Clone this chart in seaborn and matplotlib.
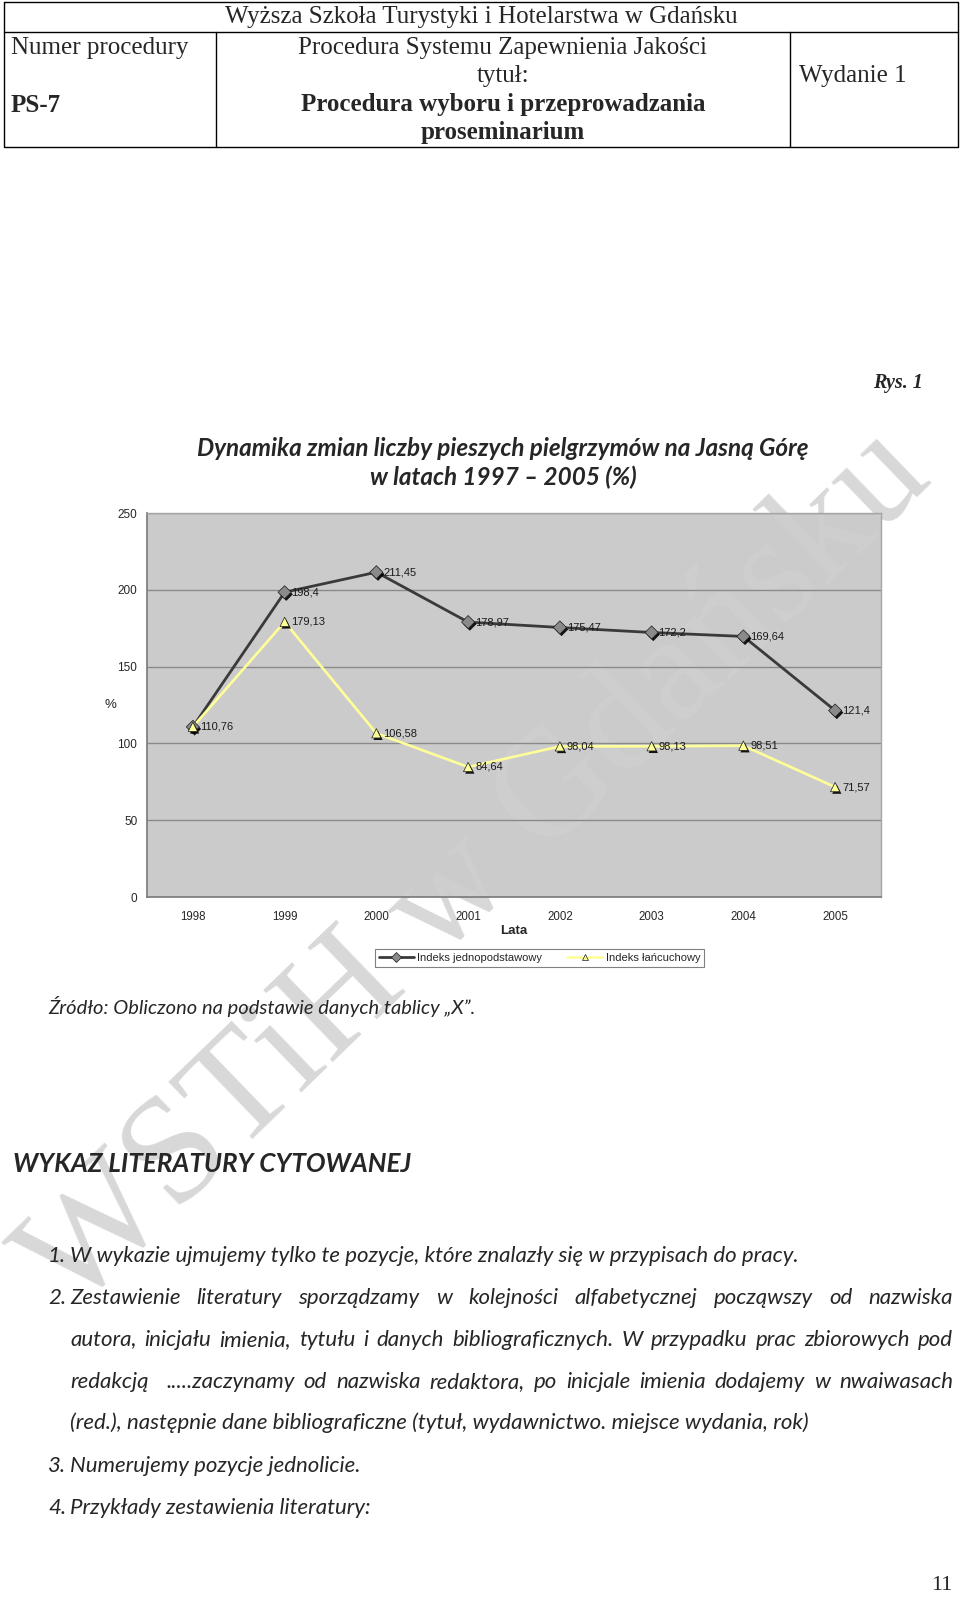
import numpy as np
import pandas as pd
import matplotlib
matplotlib.use("Agg")
import matplotlib.pyplot as plt
import matplotlib.patheffects as pe
from matplotlib.lines import Line2D
import seaborn as sns

# --- dane wykresu ---
lata = [1998, 1999, 2000, 2001, 2002, 2003, 2004, 2005]
indeks_jednopodstawowy = [110.76, 198.4, 211.45, 178.97, 175.47, 172.2, 169.64, 121.4]
indeks_lancuchowy = [110.76, 179.13, 106.58, 84.64, 98.04, 98.13, 98.51, 71.57]
serie = ["Indeks jednopodstawowy", "Indeks łańcuchowy"]
y_ticks = [0, 50, 100, 150, 200, 250]

# --- teksty strony ---
naglowek_uczelnia = "Wyższa Szkoła Turystyki i Hotelarstwa w Gdańsku"
tytul_wykresu = "Dynamika zmian liczby pieszych pielgrzymów na Jasną Górę\nw latach 1997 – 2005 (%)"
zrodlo = "Źródło: Obliczono na podstawie danych tablicy „X”."
wykaz_tytul = "WYKAZ LITERATURY CYTOWANEJ"
punkt_1 = "W wykazie ujmujemy tylko te pozycje, które znalazły się w przypisach do pracy."
punkt_2_linie = [
    "Zestawienie literatury sporządzamy w kolejności alfabetycznej począwszy od nazwiska",
    "autora, inicjału imienia, tytułu i danych bibliograficznych. W przypadku prac zbiorowych pod",
    "redakcją  .....zaczynamy od nazwiska redaktora, po inicjale imienia dodajemy w nwaiwasach",
]
punkt_2_ostatnia = "(red.), następnie dane bibliograficzne (tytuł, wydawnictwo. miejsce wydania, rok)"
punkt_3 = "Numerujemy pozycje jednolicie."
punkt_4 = "Przykłady zestawienia literatury:"

W, H = 960, 1597
DPI = 100

sns.set_style("white")
plt.rcParams["font.family"] = ["Liberation Sans", "DejaVu Sans"]

fig = plt.figure(figsize=(W / DPI, H / DPI), dpi=DPI)
fig.patch.set_facecolor("white")

# warstwa strony w pikselach
page = fig.add_axes([0, 0, 1, 1], zorder=0)
page.set_xlim(0, W)
page.set_ylim(H, 0)
page.axis("off")
page.patch.set_alpha(0)

SERIF = ["Liberation Serif", "DejaVu Serif"]
CAL = ["Lato", "DejaVu Sans"]

# znak wodny
wm_kw = dict(rotation=44, ha="center", va="center", fontsize=110,
             family=SERIF, rotation_mode="anchor")
page.text(478, 872, "WSTiH w Gdańsku", color="#d8d8d8", **wm_kw)

# tabela naglowka
lk = dict(color="black", lw=1.0)
page.plot([4, 958, 958, 4, 4], [2, 2, 147, 147, 2], **lk)
page.plot([4, 958], [32, 32], **lk)
page.plot([216, 216], [32, 147], **lk)
page.plot([790, 790], [32, 147], **lk)

hs = 18
page.text(481, 17, naglowek_uczelnia, ha="center", va="center", family=SERIF, fontsize=hs)
page.text(11, 48, "Numer procedury", ha="left", va="center", family=SERIF, fontsize=hs)
page.text(11, 105, "PS-7", ha="left", va="center", family=SERIF, fontsize=hs, weight="bold")
page.text(503, 48, "Procedura Systemu Zapewnienia Jakości", ha="center", va="center", family=SERIF, fontsize=hs)
page.text(503, 76, "tytuł:", ha="center", va="center", family=SERIF, fontsize=hs)
page.text(503, 105, "Procedura wyboru i przeprowadzania", ha="center", va="center", family=SERIF, fontsize=hs, weight="bold")
page.text(503, 133, "proseminarium", ha="center", va="center", family=SERIF, fontsize=hs, weight="bold")
page.text(799, 76, "Wydanie 1", ha="left", va="center", family=SERIF, fontsize=hs)

page.text(923, 383, "Rys. 1", ha="right", va="center", family=SERIF, fontsize=14.5,
          weight="bold", style="italic")

page.text(503, 463, tytul_wykresu, ha="center", va="center", family=CAL, fontsize=17.5,
          weight="bold", style="italic", linespacing=1.25)

# --- wykres ---
px0, px1, py0, py1 = 147, 881, 513, 897
ax = fig.add_axes([px0 / W, 1 - py1 / H, (px1 - px0) / W, (py1 - py0) / H], zorder=1)
ax.set_facecolor("#cbcbcb")

# slad znaku wodnego widoczny na tle wykresu
ax.text(478, 872, "WSTiH w Gdańsku", color="#cfcfcf", transform=page.transData,
        clip_on=True, zorder=0.5, **wm_kw)

df = pd.DataFrame({
    "Lata": lata * 2,
    "wartosc": indeks_jednopodstawowy + indeks_lancuchowy,
    "seria": [serie[0]] * len(lata) + [serie[1]] * len(lata),
})

kolory_linii = {serie[0]: "#3a3a3a", serie[1]: "#ffff99"}
szer_linii = {serie[0]: 2.0, serie[1]: 1.9}
markery = {serie[0]: "D", serie[1]: "^"}
wypeln = {serie[0]: "#8a8a8a", serie[1]: "#ffff99"}

for s in serie:
    d = df[df["seria"] == s]
    sns.lineplot(data=d, x="Lata", y="wartosc", color=kolory_linii[s],
                 linewidth=szer_linii[s], ax=ax, zorder=3, legend=False)
for s in serie:
    d = df[df["seria"] == s]
    sns.scatterplot(data=d, x="Lata", y="wartosc", marker=markery[s],
                    color=wypeln[s], s=45, edgecolor="#1a1a1a", linewidth=0.5,
                    ax=ax, zorder=4, legend=False)
    ax.collections[-1].set_path_effects([
        pe.SimplePatchShadow(offset=(1.2, -1.5), shadow_rgbFace="black", alpha=0.9),
        pe.Normal()])

# etykiety danych
def fmt(v):
    return f"{v:g}".replace(".", ",")

for i, (x, v) in enumerate(zip(lata, indeks_jednopodstawowy)):
    if i == 0:
        continue
    ax.annotate(fmt(v), (x, v), xytext=(5, 0), textcoords="offset points",
                va="center", ha="left", fontsize=8, color="#1a1a1a", zorder=5)
for x, v in zip(lata, indeks_lancuchowy):
    ax.annotate(fmt(v), (x, v), xytext=(5, 0), textcoords="offset points",
                va="center", ha="left", fontsize=8, color="#1a1a1a", zorder=5)

ax.set_xlim(lata[0] - 0.5, lata[-1] + 0.5)
ax.set_ylim(y_ticks[0], y_ticks[-1])
ax.set_yticks(y_ticks)
ax.set_xticks(lata)
ax.set_xticks([l - 0.5 for l in lata] + [lata[-1] + 0.5], minor=True)
ax.tick_params(axis="x", which="major", length=0, pad=10, labelsize=8.3)
ax.tick_params(axis="x", which="minor", length=4, color="#808080", width=1)
ax.tick_params(axis="y", which="major", length=4, color="#808080", width=1, pad=3, labelsize=8.5)
ax.grid(axis="y", color="#8a8a8a", linewidth=1.0)
ax.set_axisbelow(True)
for side in ["left", "bottom"]:
    ax.spines[side].set_color("#808080")
    ax.spines[side].set_linewidth(1.3)
for side in ["top", "right"]:
    ax.spines[side].set_color("#a6a6a6")
    ax.spines[side].set_linewidth(1.0)

ax.set_xlabel("Lata", fontsize=9.5, weight="bold")
ax.xaxis.set_label_coords(0.5, -0.072)
ax.set_ylabel("%", fontsize=9.5, rotation=0, va="center", ha="center")
ax.yaxis.set_label_coords(-0.05, 0.5)

uchwyty = [
    Line2D([], [], color=kolory_linii[s], lw=szer_linii[s], marker=markery[s],
           markerfacecolor=wypeln[s], markeredgecolor="#1a1a1a", markeredgewidth=0.5,
           markersize=5)
    for s in serie
]
leg = fig.legend(uchwyty, serie, loc="center", bbox_to_anchor=(539.5 / W, 1 - 958 / H),
                 ncol=2, fontsize=8, frameon=True, fancybox=False, edgecolor="#808080",
                 framealpha=1, handlelength=3.2, columnspacing=2.2, borderpad=0.35,
                 handletextpad=0.3)
leg.get_frame().set_linewidth(0.8)

# --- tekst pod wykresem ---
page.text(48, 1005, zrodlo, ha="left", va="center_baseline", family=CAL, fontsize=14.5,
          style="italic")
page.text(13, 1162, wykaz_tytul, ha="left", va="center_baseline", family=CAL, fontsize=18.8,
          style="italic", weight="bold")

lista_kw = dict(family=CAL, fontsize=16, style="italic", va="center_baseline")
renderer = fig.canvas.get_renderer()


def wyjustuj(tekst, x0, x1, y):
    slowa = tekst.split(" ")
    teksty = [page.text(0, y, s, ha="left", **lista_kw) for s in slowa]
    szer = [t.get_window_extent(renderer).width if s else 0 for t, s in zip(teksty, slowa)]
    przerwa = (x1 - x0 - sum(szer)) / (len(slowa) - 1)
    x = x0
    for t, w in zip(teksty, szer):
        t.set_x(x)
        x += w + przerwa


linie_y = [1254, 1296, 1338, 1380, 1421, 1464, 1506]
page.text(48, linie_y[0], "1.", ha="left", **lista_kw)
page.text(70, linie_y[0], punkt_1, ha="left", **lista_kw)
page.text(48, linie_y[1], "2.", ha="left", **lista_kw)
for tekst, y in zip(punkt_2_linie, linie_y[1:4]):
    wyjustuj(tekst, 70, 953, y)
page.text(70, linie_y[4], punkt_2_ostatnia, ha="left", **lista_kw)
page.text(48, linie_y[5], "3.", ha="left", **lista_kw)
page.text(70, linie_y[5], punkt_3, ha="left", **lista_kw)
page.text(48, linie_y[6], "4.", ha="left", **lista_kw)
page.text(70, linie_y[6], punkt_4, ha="left", **lista_kw)

page.text(952, 1586, "11", ha="right", va="center", family=SERIF, fontsize=16)

fig.savefig("out.png", dpi=DPI, facecolor="white")
